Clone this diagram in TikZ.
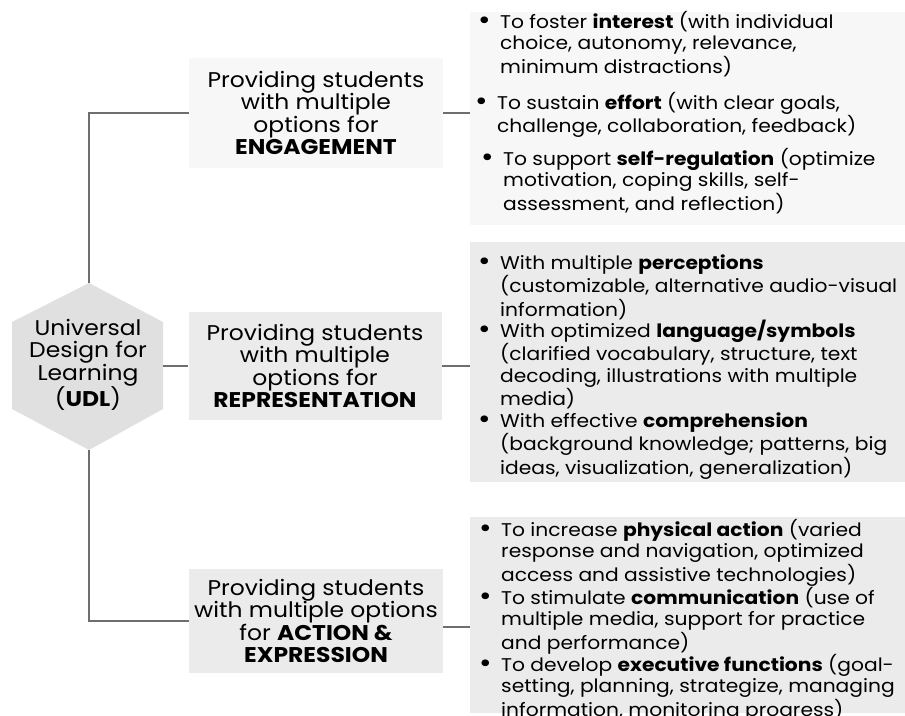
\documentclass[tikz,border=0pt]{standalone}
\usepackage{fontspec}
\setmainfont{Poppins}[FakeStretch=1.1]
\usetikzlibrary{positioning}

\definecolor{hexgray}{HTML}{E0E0E0}
\definecolor{boxlight}{HTML}{F7F7F7}
\definecolor{boxgray}{HTML}{EBEBEB}
\definecolor{linegray}{HTML}{6E6E6E}

% one bullet point, lines broken by hand
\newcommand{\udlitem}[1]{\makebox[22pt][l]{\raisebox{-1pt}{\scalebox{1.5}{\textbullet}}}\begin{tabular}[t]{@{}l@{}}#1\end{tabular}}

\begin{document}
\begin{tikzpicture}[x=1pt, y=-1pt,
    txt/.style={font=\fontsize{18.4}{21.5}\selectfont},
    bigtxt/.style={font=\fontsize{21.3}{22.5}\selectfont},
    option/.style={bigtxt, rectangle, align=center, inner sep=0pt},
    panel/.style={rectangle, inner sep=0pt, minimum width=440pt},
    item/.style={txt, anchor=base west, inner sep=0pt},
    conn/.style={draw=linegray, line width=1.3pt}]
    \useasboundingbox (0,0) rectangle (905,715);
    \clip (0,0) rectangle (905,715);

    % Hexagone UDL
    \fill[hexgray] (89,283) -- (163,322) -- (163,409) -- (89,450) -- (12,409) -- (12,322) -- cycle;
    \coordinate (udl-top) at (89,283);
    \coordinate (udl-right) at (163,366);
    \coordinate (udl-bottom) at (89,450);
    \node[bigtxt, align=center, inner sep=0pt] (udl) at (88,365) {Universal\\Design for\\Learning\\(\textbf{UDL})};

    % Trois options
    \node[option, fill=boxlight, minimum width=254pt, minimum height=110pt] (eng) at (316,113) {Providing students\\with multiple\\options for\\\textbf{ENGAGEMENT}};
    \node[option, fill=boxgray, minimum width=253pt, minimum height=108pt] (rep) at (315,366) {Providing students\\with multiple\\options for\\\textbf{REPRESENTATION}};
    \node[option, fill=boxgray, minimum width=254pt, minimum height=104pt] (act) at (316,621) {Providing students\\with multiple options\\for \textbf{ACTION \&}\\\textbf{EXPRESSION}};

    % Panneaux de droite
    \node[panel, fill=boxlight, minimum height=213pt] (engl) at (690,118.5) {};
    \node[panel, fill=boxgray, minimum height=240pt] (repl) at (690,362) {};
    \node[panel, fill=boxgray, minimum height=196pt] (actl) at (690,615) {};

    % Engagement
    \node[item] (eng-a) at (478,28) {\udlitem{To foster \textbf{interest} (with individual\\choice, autonomy, relevance,\\minimum distractions)}};
    \node[item] (eng-b) at (475,109) {\udlitem{To sustain \textbf{effort} (with clear goals,\\challenge, collaboration, feedback)}};
    \node[item] (eng-c) at (481,165) {\udlitem{To support \textbf{self-regulation} (optimize\\motivation, coping skills, self-\\assessment, and reflection)}};

    % Representation
    \node[item] (rep-a) at (478,269) {\udlitem{With multiple \textbf{perceptions}\\(customizable, alternative audio-visual\\information)}};
    \node[item] (rep-b) at (478,337) {\udlitem{With optimized \textbf{language/symbols}\\(clarified vocabulary, structure, text\\decoding, illustrations with multiple\\media)}};
    \node[item] (rep-c) at (478,427) {\udlitem{With effective \textbf{comprehension}\\(background knowledge; patterns, big\\ideas, visualization, generalization)}};

    % Action & expression
    \node[item] (act-a) at (479,536) {\udlitem{To increase \textbf{physical action} (varied\\response and navigation, optimized\\access and assistive technologies)}};
    \node[item] (act-b) at (479,604) {\udlitem{To stimulate \textbf{communication} (use of\\multiple media, support for practice\\and performance)}};
    \node[item] (act-c) at (479,671) {\udlitem{To develop \textbf{executive functions} (goal-\\setting, planning, strategize, managing\\information, monitoring progress)}};

    % Liaisons
    \draw[conn] (udl-top) |- (eng.west);
    \draw[conn] (udl-right) -- (rep.west);
    \draw[conn] (udl-bottom) |- (act.west);
    \draw[conn] (eng.east) -- (eng.east -| engl.west);
    \draw[conn] (rep.east) -- (rep.east -| repl.west);
    \draw[conn] ([yshift=-6pt]act.east) -- ([yshift=-6pt]act.east -| actl.west);

\end{tikzpicture}
\end{document}
